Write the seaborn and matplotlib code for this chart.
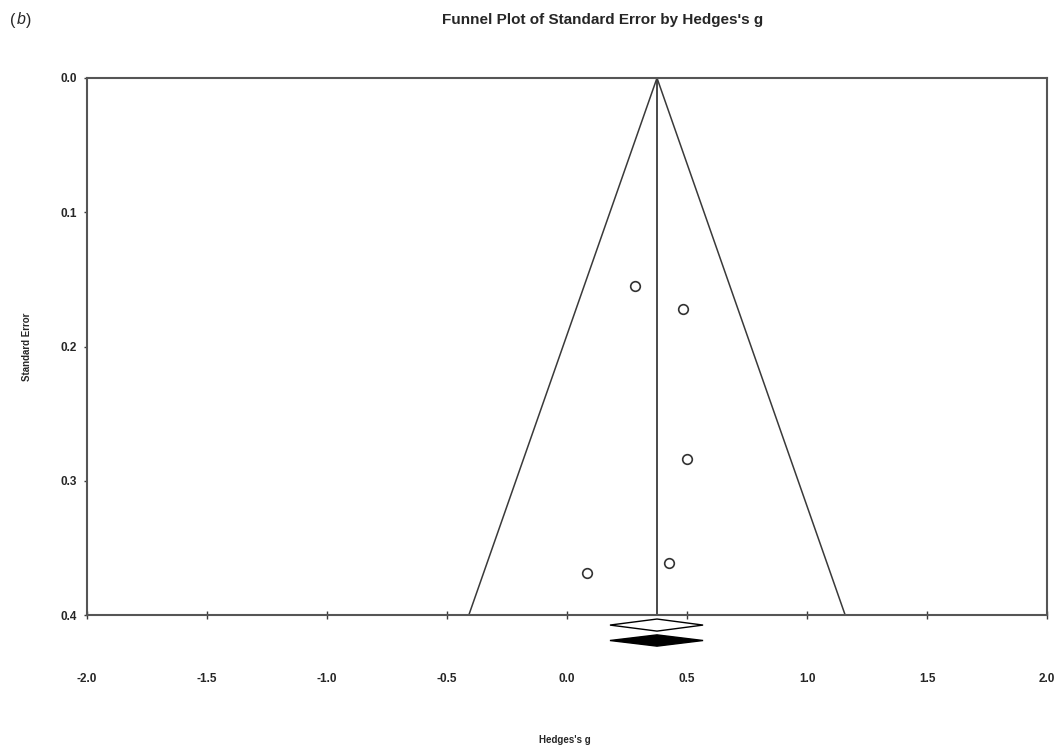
import matplotlib
matplotlib.use("Agg")
import matplotlib.pyplot as plt
import seaborn as sns
import pandas as pd
import numpy as np

# Data
hedges_g = [0.283, 0.483, 0.500, 0.425, 0.083]
std_err = [0.155, 0.172, 0.284, 0.361, 0.369]
summary_g = 0.375
summary_ci = [0.179, 0.567]      # observed summary diamond
imputed_ci = [0.179, 0.567]      # adjusted (trim-and-fill) diamond
x_ticks = [-2.0, -1.5, -1.0, -0.5, 0.0, 0.5, 1.0, 1.5, 2.0]
y_ticks = [0.0, 0.1, 0.2, 0.3, 0.4]
se_max = 0.4

sns.set_theme(style="white")
plt.rcParams['font.family'] = ['Liberation Sans', 'DejaVu Sans']

fig = plt.figure(figsize=(10.55, 7.48), dpi=100)
ax = fig.add_axes([87/1055, 133/748, 960/1055, 537/748])

line_col = "#3a3a3a"

# funnel
funnel = pd.DataFrame({
    "g": [summary_g - 1.96 * se_max, summary_g, summary_g + 1.96 * se_max],
    "se": [se_max, 0.0, se_max],
})
ax.plot(funnel["g"], funnel["se"], color=line_col, lw=1.1, zorder=2)
ax.plot([summary_g, summary_g], [0.0, se_max], color=line_col, lw=1.3, zorder=2)

pts = pd.DataFrame({"g": hedges_g, "se": std_err})
sns.scatterplot(data=pts, x="g", y="se", ax=ax, s=48, marker="o",
                facecolor="white", edgecolor="#333333", linewidth=1.2, zorder=3)

ax.set_xlim(-2.0, 2.0)
ax.set_ylim(0.4, 0.0)

# diamonds below the axis
def diamond(ci, yc, h, face):
    xs = [ci[0], summary_g, ci[1], summary_g, ci[0]]
    ys = [yc, yc - h, yc, yc + h, yc]
    ax.fill(xs, ys, facecolor=face, edgecolor="black", lw=1.0, clip_on=False, zorder=4)

diamond(summary_ci, 0.4075, 0.0045, "white")
diamond(imputed_ci, 0.4190, 0.0042, "black")

ax.set_xticks(x_ticks)
ax.set_xticklabels([f"{v:.1f}" for v in x_ticks], fontweight="bold", fontsize=8.5)
ax.set_yticks(y_ticks)
ax.set_yticklabels([f"{v:.1f}" for v in y_ticks], fontweight="bold", fontsize=8.5)
ax.tick_params(axis="x", direction="inout", length=6, width=1, color=line_col, pad=39, bottom=True)
ax.tick_params(axis="y", direction="out", length=2, width=1, color=line_col, pad=5, left=True)

for s in ax.spines.values():
    s.set_color("#555555")
    s.set_linewidth(1.5)
    s.set_visible(True)

ax.set_xlabel("")
ax.set_ylabel("")
fig.text(565/1055, 1 - 740/748, "Hedges's g", ha="center", va="center",
         fontsize=7, fontweight="bold")
fig.text(27/1055, 1 - 347/748, "Standard Error", ha="center", va="center",
         rotation=90, fontsize=7, fontweight="bold")
fig.text(603/1055, 1 - 20/748, "Funnel Plot of Standard Error by Hedges's g",
         ha="center", va="center", fontsize=11, fontweight="bold")
fig.text(10/1055, 1 - 20/748, "(", ha="left", va="center", fontsize=11.5)
fig.text(17/1055, 1 - 20/748, "b", ha="left", va="center", fontsize=11.5, style="italic")
fig.text(26/1055, 1 - 20/748, ")", ha="left", va="center", fontsize=11.5)

fig.savefig("out.png", dpi=100, facecolor="white")
